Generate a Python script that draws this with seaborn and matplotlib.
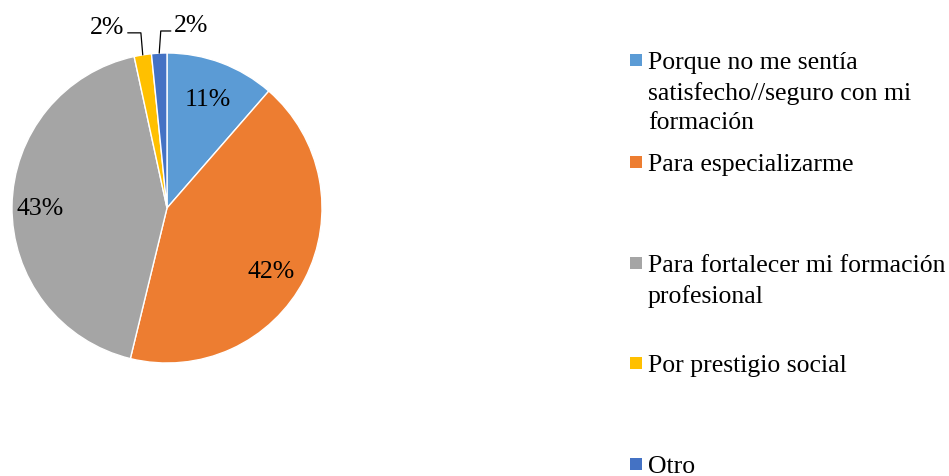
import matplotlib
matplotlib.use("Agg")
import matplotlib.pyplot as plt
from matplotlib.patches import Rectangle
import numpy as np
import seaborn as sns

# ---- data ----
categories = [
    "Porque no me sentía\nsatisfecho//seguro con mi\nformación",
    "Para especializarme",
    "Para fortalecer mi formación\nprofesional",
    "Por prestigio social",
    "Otro",
]
values = [11.4, 42.4, 42.8, 1.8, 1.6]
pct_labels = ["11%", "42%", "43%", "2%", "2%"]
colors = ["#5B9BD5", "#ED7D31", "#A5A5A5", "#FFC000", "#4472C4"]

sns.set_theme(style="white")
plt.rcParams["font.family"] = ["Liberation Serif", "DejaVu Serif"]

W, H = 949, 477
fig = plt.figure(figsize=(W / 100, H / 100), dpi=100)
fig.patch.set_facecolor("white")

# pie axes: center (167,209) px, radius 155 px
cx, cy, r = 167, 209, 155
ax = fig.add_axes([(cx - r) / W, (H - cy - r) / H, 2 * r / W, 2 * r / H])
palette = sns.color_palette(colors)
wedges, _ = ax.pie(values, colors=palette, startangle=90, counterclock=False,
                   wedgeprops=dict(edgecolor="white", linewidth=1.0),
                   radius=1.0)
ax.set_xlim(-1, 1)
ax.set_ylim(-1, 1)
ax.set_aspect("equal")
ax.axis("off")

fs = 18.5
# inside labels for large slices
dists = [0.76, 0.78, 0.82]
offs = [0.0, -3.0, 0.0]  # small angular offsets (deg)
for i in range(3):
    w = wedges[i]
    ang = np.deg2rad((w.theta1 + w.theta2) / 2 + offs[i])
    ax.text(dists[i] * np.cos(ang), dists[i] * np.sin(ang) - 0.01, pct_labels[i],
            ha="center", va="center", fontsize=fs, color="#000000")

# small slices with leader lines
for i, elbow_y, dx, ha in [(3, 1.13, -0.085, "right"), (4, 1.142, 0.065, "left")]:
    w = wedges[i]
    ang = np.deg2rad((w.theta1 + w.theta2) / 2)
    x0, y0 = np.cos(ang), np.sin(ang)
    shift = 0.01 if i == 4 else -0.012
    ax.plot([x0, x0 + shift, x0 + shift + dx], [y0, elbow_y, elbow_y],
            color="#000000", linewidth=0.9, clip_on=False)
    tx = x0 + shift + dx + (0.02 if i == 4 else -0.02)
    ax.text(tx, elbow_y + 0.04, pct_labels[i], ha=ha, va="center", fontsize=fs,
            color="#000000", clip_on=False)

# legend drawn manually
square_y = [61, 163, 264, 364, 465]
sq = 12
for lab, col, yc in zip(categories, colors, square_y):
    fig.patches.append(Rectangle((630 / W, (H - yc - sq / 2) / H), sq / W, sq / H,
                                 transform=fig.transFigure, facecolor=col,
                                 edgecolor="none"))
    fig.text(648 / W, (H - yc + 9) / H, lab, ha="left", va="top", fontsize=fs,
             linespacing=1.42, color="#000000")

fig.savefig("out.png", dpi=100, facecolor="white")
